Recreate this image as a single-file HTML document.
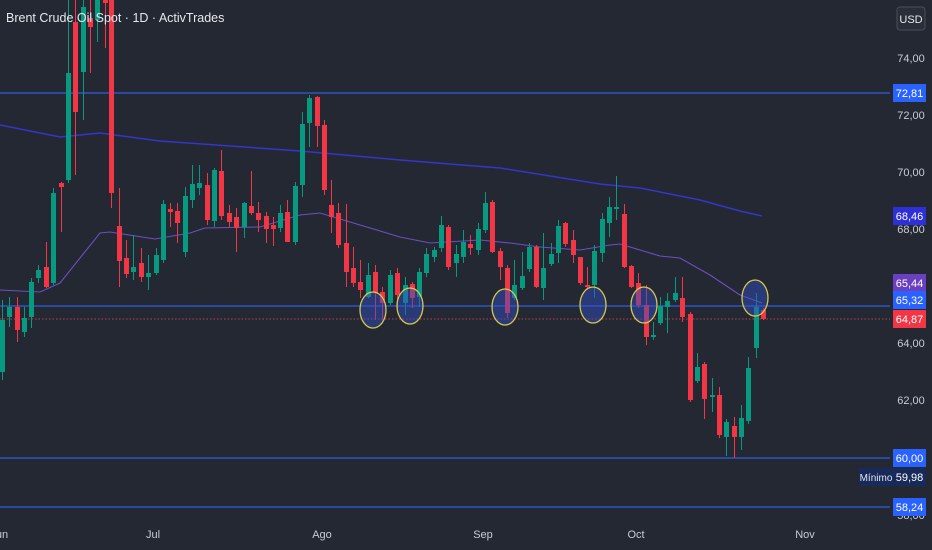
<!DOCTYPE html>
<html><head><meta charset="utf-8"><style>
html,body{margin:0;padding:0;background:#242833;}
svg{display:block;font-family:"Liberation Sans",sans-serif;}
</style></head><body>
<svg id="s" width="932" height="550" xmlns="http://www.w3.org/2000/svg">
<rect width="932" height="550" fill="#242833"/>
<g id="c"></g>
<text x="6" y="22" fill="#e6e8ee" font-size="12.5">Brent Crude Oil Spot · 1D · ActivTrades</text>
<rect x="897" y="7" width="28" height="23" rx="3" fill="#2a2e39" stroke="#4a4e5a"/>
<text x="911" y="23" fill="#e6e8ee" font-size="11" text-anchor="middle">USD</text>
<g fill="#c9cbd3" font-size="11" text-anchor="middle">
<text x="911" y="62">74,00</text><text x="911" y="119">72,00</text><text x="911" y="176">70,00</text>
<text x="911" y="233">68,00</text><text x="911" y="347">64,00</text><text x="911" y="404">62,00</text>
<text x="911" y="519">58,00</text>
</g>
<g fill="#c9cbd3" font-size="11" text-anchor="middle">
<text x="2" y="538">un</text><text x="153" y="538">Jul</text><text x="322" y="538">Ago</text>
<text x="483" y="538">Sep</text><text x="636" y="538">Oct</text><text x="805" y="538">Nov</text>
</g>
<g id="tags"></g>
</svg>
<script>
var g=document.getElementById('c'),NS='http://www.w3.org/2000/svg';
function el(n,a,p){var e=document.createElementNS(NS,n);for(var k in a)e.setAttribute(k,a[k]);(p||g).appendChild(e);return e;}
// horizontal lines
[93,306,458,507].forEach(function(y){el('line',{x1:0,x2:890,y1:y,y2:y,stroke:'#2f5fe0','stroke-width':1.3});});
el('line',{x1:0,x2:890,y1:319,y2:319,stroke:'#c0404c','stroke-width':1,'stroke-dasharray':'1.5,2'});
// MAs
el('polyline',{points:'0,125 60,137 100,133 160,141 300,151 400,160 500,168 600,184 640,188 700,200 740,211 762,216',fill:'none',stroke:'#3535c8','stroke-width':1.5});
el('polyline',{points:'0,290 40,292 60,283 100,233 110,232 155,239 190,233 205,228 260,227 300,215 320,213 350,222 400,237 430,243 480,240 510,243 540,247 580,250 610,245 620,244 640,250 660,256 680,258 710,275 740,295 762,303',fill:'none',stroke:'#6a4fc0','stroke-width':1.1});
var C=[
[0,300,320,372,380,'g'],[7,297,307,317,327,'g'],[15,297,307,330,342,'r'],[22,307,318,332,337,'g'],[29,278,282,317,328,'g'],
[36,265,270,278,283,'g'],[44,242,267,287,288,'r'],[51,188,193,283,285,'g'],[59,182,183,187,232,'r'],[66,0,73,180,183,'g'],
[73,0,22,112,175,'r'],[81,0,7,72,120,'g'],[88,0,18,27,73,'r'],[95,0,0,20,42,'g'],[103,0,0,3,48,'r'],[109,0,0,193,208,'r'],
[117,188,226,261,287,'r'],[124,240,258,274,278,'r'],[131,235,267,272,280,'g'],[139,248,263,277,282,'r'],[146,255,273,277,290,'g'],
[154,248,255,273,275,'g'],[161,200,204,260,263,'g'],[168,203,209,212,227,'r'],[175,203,211,223,243,'r'],[183,187,196,252,257,'g'],
[190,165,184,200,208,'g'],[197,165,183,188,195,'g'],[205,173,185,220,225,'r'],[212,168,170,221,227,'g'],[219,150,171,216,220,'r'],
[227,205,213,222,227,'r'],[234,208,217,228,252,'r'],[242,202,203,227,238,'g'],[249,171,206,213,215,'r'],[256,202,213,220,232,'r'],
[264,212,216,229,243,'r'],[271,217,225,229,246,'r'],[278,205,213,228,232,'g'],[285,200,212,242,242,'r'],[293,182,186,242,245,'g'],
[300,112,124,185,197,'g'],[307,95,98,123,147,'g'],[315,96,97,126,147,'r'],[322,120,125,190,195,'r'],[329,180,205,217,233,'r'],
[336,203,213,245,248,'r'],[344,204,243,272,287,'r'],[351,247,268,283,287,'r'],[358,260,282,290,298,'r'],[366,263,275,297,298,'g'],
[373,265,272,293,320,'r'],[380,287,292,303,320,'r'],[388,270,275,303,305,'g'],[395,268,273,295,308,'r'],[403,277,285,303,315,'g'],
[410,282,284,298,308,'r'],[417,268,272,297,307,'g'],[424,248,254,273,277,'g'],[432,247,250,257,262,'g'],[439,216,225,248,252,'g'],
[446,225,227,267,270,'r'],[454,245,254,263,277,'g'],[461,230,242,257,263,'g'],[468,235,244,248,255,'r'],[476,223,229,250,255,'g'],
[483,192,203,230,233,'g'],[490,200,202,252,253,'r'],[498,248,251,267,280,'r'],[505,265,268,313,318,'r'],[512,260,285,298,300,'g'],
[520,252,276,288,290,'g'],[527,243,247,269,272,'g'],[534,245,247,287,288,'r'],[541,233,268,288,300,'g'],[549,243,254,264,266,'g'],
[556,220,226,253,263,'g'],[563,222,223,244,247,'r'],[571,230,240,255,263,'r'],[578,257,257,283,285,'r'],[585,267,285,287,288,'r'],
[592,245,251,285,298,'g'],[600,213,219,253,262,'g'],[607,197,207,223,237,'g'],[614,176,207,209,220,'g'],[622,204,214,267,268,'r'],
[629,265,266,287,288,'r'],[636,273,283,305,308,'r'],[644,285,305,337,345,'r'],[651,322,335,337,340,'g'],[658,297,306,323,325,'g'],
[665,293,301,307,333,'g'],[673,277,293,300,302,'g'],[680,277,298,317,322,'r'],[688,312,314,400,402,'r'],[695,353,367,381,383,'g'],
[702,362,364,399,419,'r'],[710,378,395,397,412,'g'],[717,387,395,435,438,'r'],[724,419,422,437,456,'g'],[732,417,426,437,458,'r'],
[739,405,418,437,450,'g'],[746,357,368,421,424,'g'],[754,293,307,348,358,'g'],[761,308,310,319,320,'r']];
C.forEach(function(c){var col=c[5]=='g'?'#089981':'#f23645';
el('line',{x1:c[0]+2.5,x2:c[0]+2.5,y1:c[1],y2:c[4],stroke:col,'stroke-width':1});
el('rect',{x:c[0],y:c[2],width:5,height:Math.max(1,c[3]-c[2]),fill:col});});
[[373,310],[410,306],[505,307],[593,305],[644,305],[755,298]].forEach(function(p){
el('ellipse',{cx:p[0],cy:p[1],rx:13,ry:18,fill:'rgba(50,80,200,0.45)',stroke:'#d8c84a','stroke-width':1.3});});
var T=document.getElementById('tags');
[[93,'72,81','#2962ff'],[216,'68,46','#2f2fd8'],[283,'65,44','#6a3fc0'],[300,'65,32','#2962ff'],[319,'64,87','#f23645'],[458,'60,00','#2962ff'],[477,'59,98','#182a5a'],[507,'58,24','#2962ff']].forEach(function(t){
el('rect',{x:893,y:t[0]-9,width:33,height:18,fill:t[2]},T);
var x=el('text',{x:909.5,y:t[0]+4,fill:'#fff','font-size':11,'text-anchor':'middle'},T);x.textContent=t[1];});
el('rect',{x:859,y:468,width:34,height:18,fill:'#182a5a'},T);
var m=el('text',{x:876,y:481,fill:'#dfe3ee','font-size':10,'text-anchor':'middle'},T);m.textContent='Mínimo';
</script>
</body></html>
